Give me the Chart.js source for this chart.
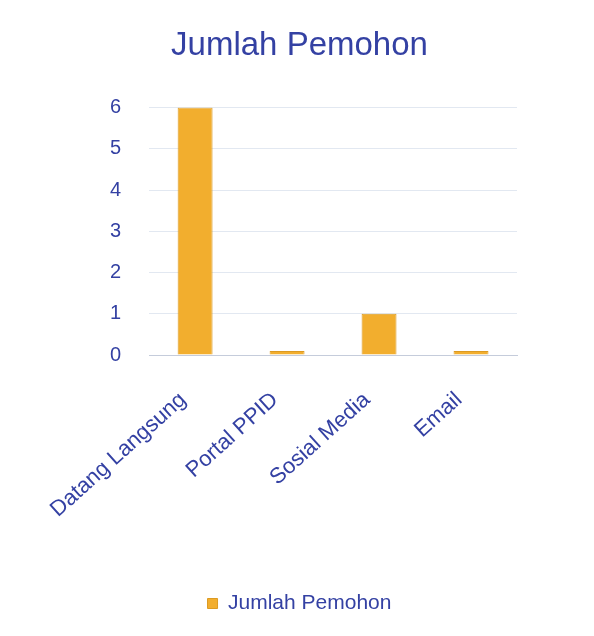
<!DOCTYPE html>
<html lang="id">
<head>
    <meta charset="UTF-8">
    <title>Jumlah Pemohon</title>
    <script src="https://cdn.jsdelivr.net/npm/chart.js"></script>
    <style>
        html, body {
            margin: 0;
            padding: 0;
            background: #ffffff;
        }
        .chart-container {
            width: 594px;
            height: 636px;
            position: relative;
        }
    </style>
</head>
<body>

    <div class="chart-container">
        <canvas id="pemohonChart"></canvas>
    </div>

    <script>
        // Data
        const categories = ["Datang Langsung", "Portal PPID", "Sosial Media", "Email"];
        const jumlahPemohon = [6, 0, 1, 0];
        const yTicks = [0, 1, 2, 3, 4, 5, 6];

        const blueText = "#3441a3";
        const barColor = "#f2ae2e";
        const fontFamily = "Liberation Sans, Arial, sans-serif";

        const ctx = document.getElementById("pemohonChart").getContext("2d");
        new Chart(ctx, {
            type: "bar",
            data: {
                labels: categories,
                datasets: [
                    {
                        label: "Jumlah Pemohon",
                        data: jumlahPemohon,
                        backgroundColor: barColor,
                        borderColor: "#dc9a22",
                        borderWidth: 1,
                        minBarLength: 4,
                        barPercentage: 0.38,
                        categoryPercentage: 1.0
                    }
                ]
            },
            options: {
                responsive: true,
                maintainAspectRatio: false,
                animation: false,
                layout: {
                    padding: { left: 82, right: 77, top: 26, bottom: 12 }
                },
                plugins: {
                    title: {
                        display: true,
                        text: "Jumlah Pemohon",
                        color: blueText,
                        font: { family: fontFamily, size: 33, weight: "normal" },
                        padding: { top: 0, bottom: 42 }
                    },
                    legend: {
                        position: "bottom",
                        labels: {
                            color: blueText,
                            boxWidth: 10,
                            boxHeight: 10,
                            padding: 10,
                            font: { family: fontFamily, size: 21 }
                        }
                    },
                    tooltip: { enabled: false }
                },
                scales: {
                    y: {
                        min: 0,
                        max: 6,
                        afterBuildTicks: (axis) => {
                            axis.ticks = yTicks.map(v => ({ value: v }));
                        },
                        ticks: {
                            color: blueText,
                            padding: 28,
                            font: { family: fontFamily, size: 20 }
                        },
                        grid: {
                            color: "#e2e8f1",
                            drawTicks: false
                        },
                        border: { display: false }
                    },
                    x: {
                        afterFit: (axis) => {
                            axis.height = 228;
                        },
                        ticks: {
                            color: blueText,
                            maxRotation: 42,
                            minRotation: 42,
                            padding: 24,
                            labelOffset: -12,
                            font: { family: fontFamily, size: 22 }
                        },
                        grid: { display: false },
                        border: { color: "#c5ccdb" }
                    }
                }
            }
        });
    </script>

</body>
</html>
